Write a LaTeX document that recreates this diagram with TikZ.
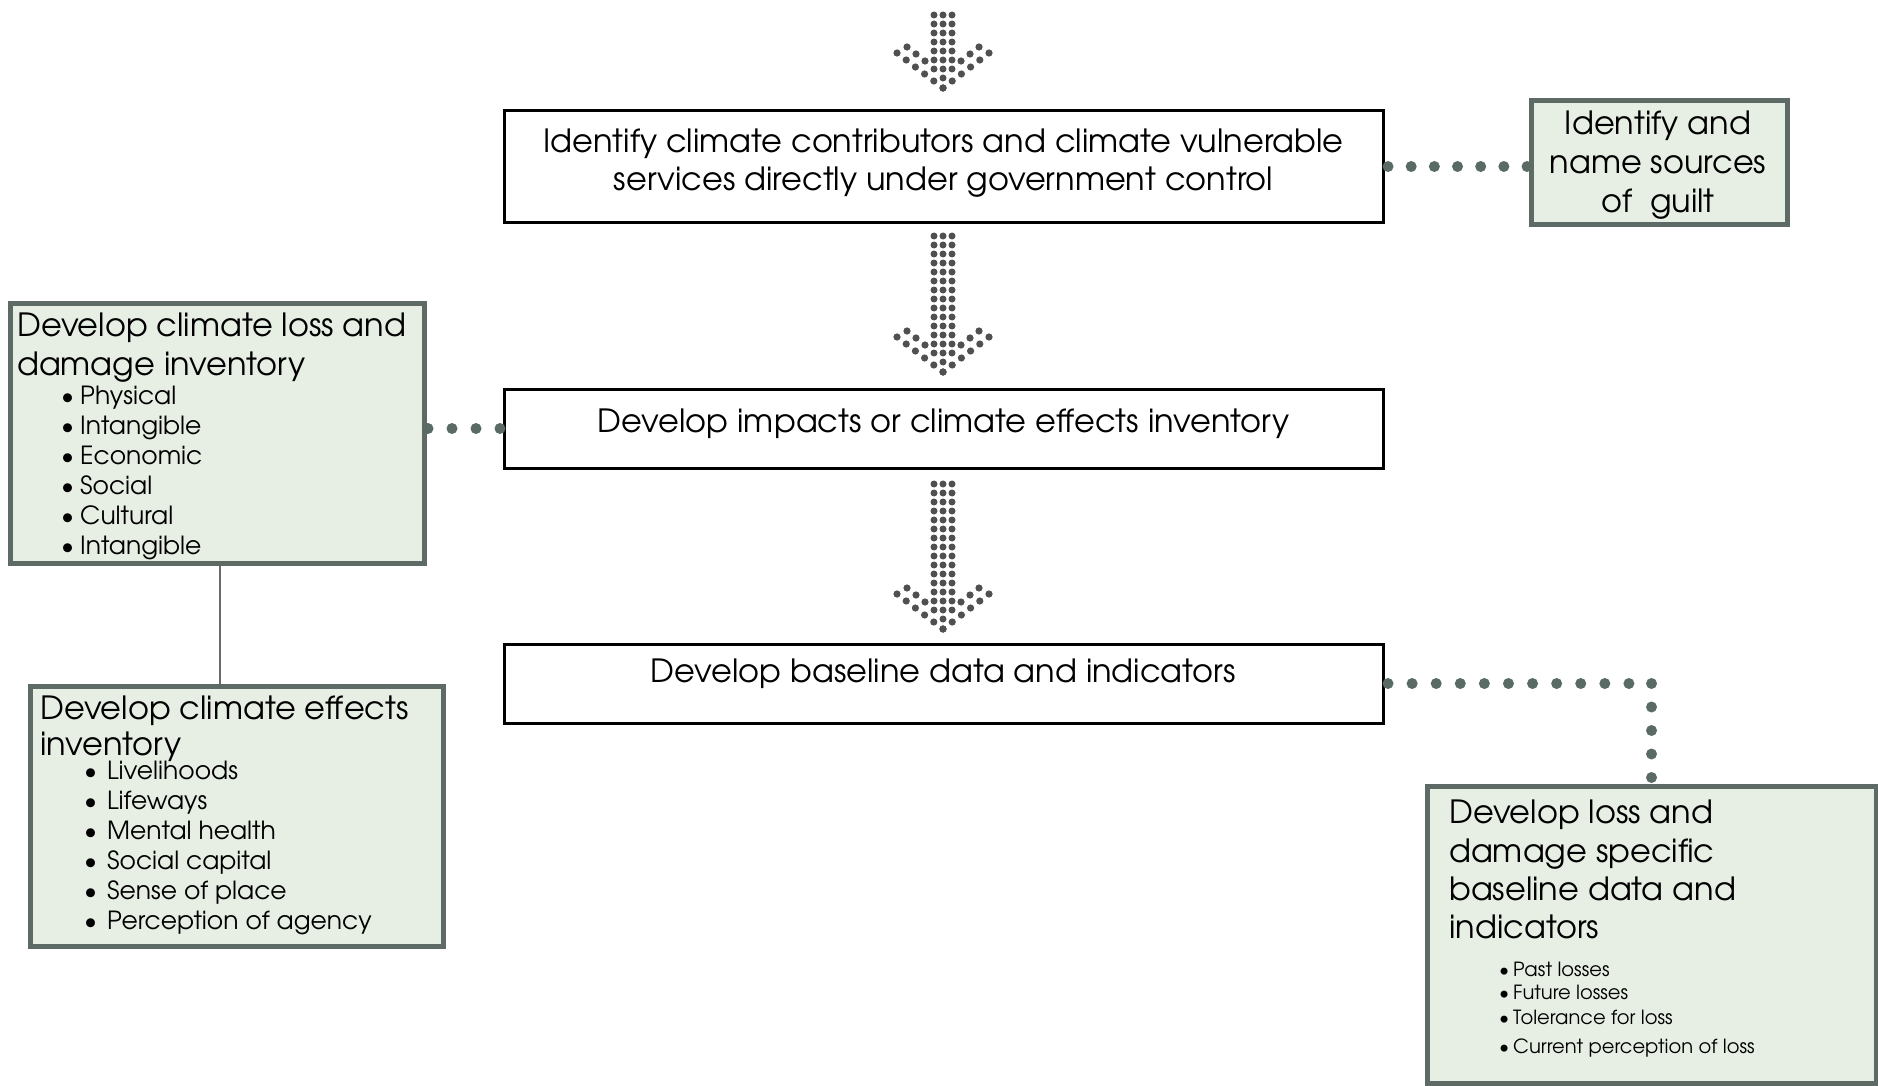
\documentclass[tikz,border=0pt]{standalone}
\usepackage{fontspec}
\setmainfont{TeX Gyre Adventor}
\usetikzlibrary{backgrounds}

\definecolor{boxfill}{HTML}{E7EFE4}
\definecolor{boxedge}{HTML}{5E6A65}
\definecolor{dotc}{HTML}{5A6A64}
\definecolor{arrowdot}{HTML}{505050}
\definecolor{linkgray}{HTML}{6A6A6A}

% downward arrow built from dots: tip x, tip y, number of shaft rows
\newcommand{\dottedarrow}[3]{%
  \foreach \r in {1,...,#3}{
    \foreach \c in {-9,0,9}{
      \fill[arrowdot] ({#1+\c},{#2-19-(\r-1)*9}) circle (3.5pt);
    }
  }
  \fill[arrowdot] (#1,{#2-10}) circle (3.5pt);
  \foreach \k in {0,...,5}{
    \fill[arrowdot] ({#1-46+\k*9.2},{#2-35+\k*7}) circle (3.6pt);
    \fill[arrowdot] ({#1+46-\k*9.2},{#2-35+\k*7}) circle (3.6pt);
  }
  \foreach \k in {0,...,2}{
    \fill[arrowdot] ({#1-36+\k*9},{#2-41+\k*7}) circle (3.6pt);
    \fill[arrowdot] ({#1+36-\k*9},{#2-41+\k*7}) circle (3.6pt);
  }
}

\tikzset{
  mainbox/.style={draw=black, line width=3pt, fill=white, inner sep=0pt},
  greenbox/.style={draw=boxedge, line width=5pt, fill=boxfill, inner sep=0pt},
  bigtext/.style={inner sep=0pt, font=\fontsize{32}{38}\selectfont},
  listtext/.style={inner sep=0pt, font=\fontsize{25}{30}\selectfont, anchor=base west},
  smalllist/.style={inner sep=0pt, font=\fontsize{19.5}{23}\selectfont, anchor=base west},
  dotline/.style={draw=dotc, line width=11pt, line cap=round, dash pattern=on 0pt off #1},
  dotline/.default=23.5pt,
  solidlink/.style={draw=linkgray, line width=2.5pt}
}

\begin{document}
\begin{tikzpicture}[x=1pt, y=-1pt]
\useasboundingbox (0,0) rectangle (1878,1086);

% main column
\node[mainbox, minimum width=879, minimum height=111] (b1) at (943.5,166.5) {};
\node[mainbox, minimum width=879, minimum height=79] (b2) at (943.5,428.5) {};
\node[mainbox, minimum width=879, minimum height=79] (b3) at (943.5,683.5) {};

\node[bigtext, anchor=base] (b1t1) at (943.5,152.5) {Identify climate contributors and climate vulnerable};
\node[bigtext, anchor=base] (b1t2) at (943.5,190) {services directly under government control};
\node[bigtext, anchor=base] (b2t) at (943.5,432) {Develop impacts or climate effects inventory};
\node[bigtext, anchor=base] (b3t) at (943.5,682) {Develop baseline data and indicators};

% side boxes
\node[greenbox, minimum width=256, minimum height=123] (guilt) at (1659,162.5) {};
\node[bigtext, anchor=base] (g1) at (1658,135) {Identify and};
\node[bigtext, anchor=base] (g2) at (1658,174) {name sources};
\node[bigtext, anchor=base] (g3) at (1658,212) {of\ \ guilt};

\node[greenbox, minimum width=414, minimum height=260] (lb1) at (217,433) {};
\node[bigtext, anchor=base west] (lb1t1) at (17,336) {Develop climate loss and};
\node[bigtext, anchor=base west] (lb1t2) at (17,375) {damage inventory};
\foreach \t [count=\i from 0] in {Physical, Intangible, Economic, Social, Cultural, Intangible}
  \node[listtext] (lb1i\i) at (80,{404+30*\i}) {\llap{\textbullet\hspace{6pt}}\t};

\node[greenbox, minimum width=413, minimum height=260] (lb2) at (236.5,816) {};
\node[bigtext, anchor=base west] (lb2t1) at (40,719) {Develop climate effects};
\node[bigtext, anchor=base west] (lb2t2) at (40,755) {inventory};
\foreach \t [count=\i from 0] in {Livelihoods, Lifeways, Mental health, Social capital, Sense of place, Perception of agency}
  \node[listtext] (lb2i\i) at (107,{779+30*\i}) {\llap{\textbullet\hspace{10pt}}\t};

\node[greenbox, minimum width=449, minimum height=297] (rb) at (1651.5,934.5) {};
\foreach \t/\yy [count=\i] in {Develop loss and/823, damage specific/862, baseline data and/900, indicators/938}
  \node[bigtext, anchor=base west] (rbt\i) at (1449,\yy) {\t};
\foreach \t/\yy [count=\i] in {Past losses/976.5, Future losses/999.5, Tolerance for loss/1024.5, Current perception of loss/1053.5}
  \node[smalllist] (rbi\i) at (1513,\yy) {\llap{\textbullet\hspace{4pt}}\t};

% connectors
\draw[dotline=23.17pt, shorten <=3.5pt] (b1.east) -- (guilt.west |- b1.east);
\draw[dotline=24pt, shorten <=2.5pt] (b2.west) -- (lb1.east |- b2.west);
\draw[dotline=24.09pt, shorten <=3.5pt] (b3.east) -- (b3.east -| rb.north);
\draw[dotline, shorten >=-6pt] (b3.east -| rb.north) -- (rb.north);
\begin{pgfonlayer}{background}
  \fill[white] (0,0) rectangle (1878,1086);
  \draw[solidlink] ([xshift=3pt]lb1.south) -- ([xshift=3pt]lb1.south |- lb2.north);
\end{pgfonlayer}

% dotted flow arrows
\dottedarrow{943}{88}{7}
\dottedarrow{943}{372}{14}
\dottedarrow{943}{629}{15}
\end{tikzpicture}
\end{document}
